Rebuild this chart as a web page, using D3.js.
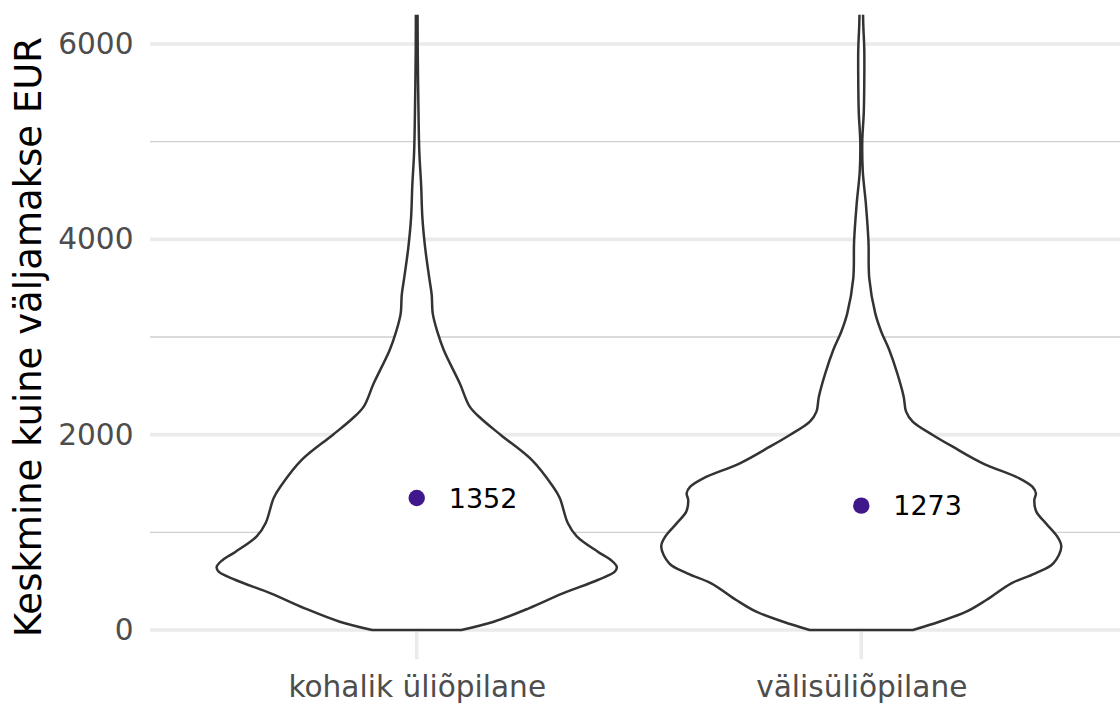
<!DOCTYPE html>
<html>
<head>
<meta charset="utf-8">
<script src="https://cdn.jsdelivr.net/npm/d3@7"></script>
<style>
  html, body { margin: 0; padding: 0; background: #ffffff; }
  svg { display: block; }
</style>
</head>
<body>
<script>
// ---------------- data ----------------
const categories = ["kohalik üliõpilane", "välisüliõpilane"];
const means = [1352, 1273];
const meanLabels = ["1352", "1273"];
const yMajorTicks = [0, 2000, 4000, 6000];
const yMinorTicks = [1000, 3000, 5000];
const yTitle = "Keskmine kuine väljamakse EUR";

// violin profiles: [value EUR, relative density (max = 1)]
const violinLocal = [
  [0, 0.223], [85, 0.385], [222, 0.56], [375, 0.73], [512, 0.905], [597, 0.99],
  [648, 1.0], [717, 0.97], [802, 0.905], [959, 0.80], [1096, 0.755], [1352, 0.715],
  [1471, 0.68], [1741, 0.575], [1997, 0.42], [2168, 0.32], [2287, 0.265], [2526, 0.215],
  [2867, 0.135], [3054, 0.103], [3242, 0.08], [3430, 0.075], [3600, 0.063], [3907, 0.0425],
  [4214, 0.0285], [4556, 0.022], [4897, 0.013], [5426, 0.008], [5938, 0.005], [6600, 0.004]
];
const violinForeign = [
  [0, 0.258], [85, 0.39], [187, 0.525], [307, 0.625], [478, 0.75], [580, 0.87],
  [683, 0.96], [853, 1.0], [956, 0.98], [1092, 0.923], [1212, 0.875], [1331, 0.865],
  [1399, 0.873], [1467, 0.855], [1553, 0.79], [1707, 0.607], [1877, 0.457], [1997, 0.357],
  [2133, 0.257], [2236, 0.224], [2389, 0.212], [2628, 0.18], [2867, 0.14], [3054, 0.1],
  [3242, 0.07], [3600, 0.04], [3976, 0.036], [4351, 0.0235], [4700, 0.0075], [5000, 0.005],
  [5300, 0.0125], [5600, 0.015], [5950, 0.015], [6200, 0.01], [6600, 0.006]
];
const violins = [violinLocal, violinForeign];

// ---------------- layout ----------------
const W = 1120, H = 704;
const panel = { left: 150, right: 1128, top: 14.7, bottom: 659.3 };
const font = "'DejaVu Sans', Verdana, sans-serif";
const labelNudgePx = 32;

const svg = d3.select("body").append("svg")
  .attr("width", W).attr("height", H)
  .attr("viewBox", `0 0 ${W} ${H}`);

svg.append("rect").attr("width", W).attr("height", H).attr("fill", "#ffffff");

const x = d3.scalePoint().domain(categories)
  .range([panel.left, panel.right]).padding(0.6);
const y = d3.scaleLinear().domain([-300, 6300]).range([panel.bottom, panel.top]);
const halfWidth = d3.scaleLinear().domain([0, 1]).range([0, x.step() * 0.45]);

svg.append("clipPath").attr("id", "panelClip")
  .append("rect")
  .attr("x", panel.left).attr("y", panel.top)
  .attr("width", panel.right - panel.left).attr("height", panel.bottom - panel.top);

const grid = svg.append("g");
// minor gridlines
grid.selectAll("line.minor").data(yMinorTicks).join("line")
  .attr("class", "minor")
  .attr("x1", panel.left).attr("x2", panel.right)
  .attr("y1", d => y(d)).attr("y2", d => y(d))
  .attr("stroke", "#cfcfcf").attr("stroke-width", 1.3);
// major gridlines
grid.selectAll("line.major").data(yMajorTicks).join("line")
  .attr("class", "major")
  .attr("x1", panel.left).attr("x2", panel.right)
  .attr("y1", d => y(d)).attr("y2", d => y(d))
  .attr("stroke", "#ebebeb").attr("stroke-width", 3.6);
// vertical major gridlines
grid.selectAll("line.vmajor").data(categories).join("line")
  .attr("class", "vmajor")
  .attr("x1", d => x(d)).attr("x2", d => x(d))
  .attr("y1", panel.top).attr("y2", panel.bottom)
  .attr("stroke", "#ebebeb").attr("stroke-width", 3.6);

// violins
const plot = svg.append("g").attr("clip-path", "url(#panelClip)");
violins.forEach((prof, i) => {
  const cx = x(categories[i]);
  const area = d3.area()
    .y(d => y(d[0]))
    .x0(d => cx - halfWidth(d[1]))
    .x1(d => cx + halfWidth(d[1]))
    .curve(d3.curveCatmullRom.alpha(0.5));
  plot.append("path")
    .datum(prof)
    .attr("d", area)
    .attr("fill", "#ffffff")
    .attr("stroke", "#333333")
    .attr("stroke-width", 2.5)
    .attr("stroke-linejoin", "round");
});

// mean points
plot.selectAll("circle.mean").data(means).join("circle")
  .attr("class", "mean")
  .attr("cx", (d, i) => x(categories[i]))
  .attr("cy", d => y(d))
  .attr("r", 8.2)
  .attr("fill", "#41188c");

// mean labels
svg.selectAll("text.meanLabel").data(means).join("text")
  .attr("class", "meanLabel")
  .attr("x", (d, i) => x(categories[i]) + labelNudgePx)
  .attr("y", d => y(d))
  .attr("dy", "0.36em")
  .attr("font-family", font)
  .attr("font-size", 27)
  .attr("fill", "#000000")
  .text((d, i) => meanLabels[i]);

// y axis
const yAxis = svg.append("g")
  .attr("transform", `translate(${panel.left},0)`)
  .call(d3.axisLeft(y).tickValues(yMajorTicks).tickSize(0).tickPadding(16.5)
    .tickFormat(d3.format("d")));
yAxis.select(".domain").remove();
yAxis.selectAll("text")
  .attr("font-family", font).attr("font-size", 29.6).attr("fill", "#4d4d4d");

// x axis
const xAxis = svg.append("g")
  .attr("transform", `translate(0,${panel.bottom})`)
  .call(d3.axisBottom(x).tickSize(0).tickPadding(16.7));
xAxis.select(".domain").remove();
xAxis.selectAll("text")
  .attr("font-family", font).attr("font-size", 29.6).attr("fill", "#4d4d4d");

// y title
svg.append("text")
  .attr("transform", `translate(41,${(panel.top + panel.bottom) / 2}) rotate(-90)`)
  .attr("text-anchor", "middle")
  .attr("font-family", font)
  .attr("font-size", 37)
  .attr("fill", "#000000")
  .text(yTitle);
</script>
</body>
</html>
